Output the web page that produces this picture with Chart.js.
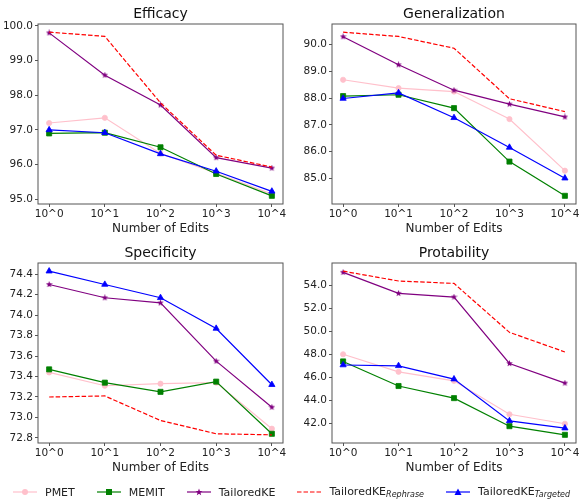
<!DOCTYPE html>
<html>
<head>
<meta charset="utf-8">
<script src="https://cdn.jsdelivr.net/npm/chart.js@4.4.1/dist/chart.umd.min.js"></script>
<style>
  body { margin: 0; background: #fff; width: 583px; height: 503px; position: relative; overflow: hidden; font-family: "DejaVu Sans", sans-serif; }
  canvas.panel { position: absolute; }
  #legend { position: absolute; left: 13px; top: 484px; height: 16px; display: flex; gap: 22px; align-items: center; font-size: 11px; color: #222; }
  .item { display: flex; align-items: center; gap: 8px; white-space: nowrap; }
  .item sub { font-style: italic; font-size: 8px; vertical-align: -2px; }
</style>
</head>
<body>
<canvas id="eff" class="panel" width="290" height="240" style="left:0;top:0"></canvas>
<canvas id="gen" class="panel" width="289" height="240" style="left:294px;top:0"></canvas>
<canvas id="spe" class="panel" width="290" height="240" style="left:0;top:239px"></canvas>
<canvas id="pro" class="panel" width="289" height="240" style="left:294px;top:239px"></canvas>

<div id="legend">
  <div class="item"><svg width="24" height="8"><line x1="0" y1="4" x2="24" y2="4" stroke="pink" stroke-width="1.2"/><circle cx="12" cy="4" r="3" fill="pink"/></svg><span>PMET</span></div>
  <div class="item"><svg width="24" height="8"><line x1="0" y1="4" x2="24" y2="4" stroke="green" stroke-width="1.2"/><rect x="9" y="1" width="6" height="6" fill="green"/></svg><span>MEMIT</span></div>
  <div class="item"><svg width="24" height="8"><line x1="0" y1="4" x2="24" y2="4" stroke="purple" stroke-width="1.2"/><polygon points="12,0.5 12.9,3 15.5,3 13.4,4.6 14.2,7.3 12,5.7 9.8,7.3 10.6,4.6 8.5,3 11.1,3" fill="purple"/></svg><span>TailoredKE</span></div>
  <div class="item"><svg width="24" height="8"><line x1="0" y1="4" x2="24" y2="4" stroke="red" stroke-width="1.2" stroke-dasharray="4.5 2"/></svg><span>TailoredKE<sub>Rephrase</sub></span></div>
  <div class="item"><svg width="24" height="8"><line x1="0" y1="4" x2="24" y2="4" stroke="blue" stroke-width="1.2"/><polygon points="12,0.5 15.5,7 8.5,7" fill="blue"/></svg><span>TailoredKE<sub>Targeted</sub></span></div>
</div>

<script>
// x categories
const xLabels = ['10^0', '10^1', '10^2', '10^3', '10^4'];

// Efficacy
const effPMET     = [97.2, 97.35, 96.32, 95.75, 95.15];
const effMEMIT    = [96.9, 96.92, 96.5, 95.73, 95.1];
const effTailored = [99.8, 98.58, 97.72, 96.2, 95.9];
const effRephrase = [99.82, 99.7, 97.78, 96.27, 95.93];
const effTargeted = [97.0, 96.92, 96.31, 95.81, 95.23];
const effTicks    = [95, 96, 97, 98, 99, 100];

// Generalization
const genPMET     = [88.69, 88.38, 88.25, 87.22, 85.29];
const genMEMIT    = [88.08, 88.13, 87.63, 85.63, 84.35];
const genTailored = [90.3, 89.25, 88.3, 87.78, 87.3];
const genRephrase = [90.47, 90.31, 89.87, 87.98, 87.5];
const genTargeted = [87.99, 88.2, 87.27, 86.16, 85.01];
const genTicks    = [85, 86, 87, 88, 89, 90];

// Specificity
const spePMET     = [73.44, 73.31, 73.33, 73.34, 72.89];
const speMEMIT    = [73.47, 73.34, 73.25, 73.35, 72.84];
const speTailored = [74.3, 74.17, 74.12, 73.55, 73.1];
const speRephrase = [73.2, 73.21, 72.97, 72.84, 72.83];
const speTargeted = [74.43, 74.3, 74.17, 73.87, 73.32];
const speTicks    = [72.8, 73.0, 73.2, 73.4, 73.6, 73.8, 74.0, 74.2, 74.4];

// Protability
const proPMET     = [48.0, 46.48, 45.7, 42.8, 41.98];
const proMEMIT    = [47.38, 45.25, 44.2, 41.77, 41.02];
const proTailored = [55.1, 53.28, 52.96, 47.2, 45.5];
const proRephrase = [55.2, 54.35, 54.14, 49.9, 48.2];
const proTargeted = [47.07, 47.0, 45.85, 42.23, 41.6];
const proTicks    = [42, 44, 46, 48, 50, 52, 54];

Chart.defaults.font.family = "'DejaVu Sans', sans-serif";

function starImage(color, size) {
  let c = document.createElement('canvas');
  c.width = size; c.height = size;
  let g = c.getContext('2d');
  g.fillStyle = color;
  g.beginPath();
  for (let i = 0; i < 10; i++) {
    let r = i % 2 ? size * 0.2 : size * 0.5;
    let a = -Math.PI / 2 + i * Math.PI / 5;
    g.lineTo(size / 2 + r * Math.cos(a), size / 2 + r * Math.sin(a));
  }
  g.closePath();
  g.fill();
  return c;
}
const purpleStar = starImage('purple', 7);

// box around the plot area, like matplotlib spines
const frame = {
  id: 'frame',
  afterDraw(chart) {
    let a = chart.chartArea, ctx = chart.ctx;
    ctx.save();
    ctx.strokeStyle = '#555';
    ctx.lineWidth = 1;
    ctx.strokeRect(a.left, a.top, a.right - a.left, a.bottom - a.top);
    ctx.restore();
  }
};

function pts(vals) {
  return vals.map((y, i) => ({x: i, y: y}));
}

function DisplayPanel(domID, title, s, yTicks) {
  let all = [].concat(s[0], s[1], s[2], s[3], s[4]);
  let lo = Math.min(...all), hi = Math.max(...all);
  let pad = (hi - lo) * 0.05;

  let data = {
    datasets: [
      {label: 'PMET', data: pts(s[0]), borderColor: 'pink', backgroundColor: 'pink',
       pointStyle: 'circle', pointRadius: 2.6, order: 5},
      {label: 'MEMIT', data: pts(s[1]), borderColor: 'green', backgroundColor: 'green',
       pointStyle: 'rect', pointRadius: 3.6, order: 4},
      {label: 'TailoredKE', data: pts(s[2]), borderColor: 'purple', backgroundColor: 'purple',
       pointStyle: purpleStar, pointRadius: 3, order: 3},
      {label: 'TailoredKE_Rephrase', data: pts(s[3]), borderColor: 'red', backgroundColor: 'red',
       borderDash: [4.5, 2], pointRadius: 0, order: 2},
      {label: 'TailoredKE_Targeted', data: pts(s[4]), borderColor: 'blue', backgroundColor: 'blue',
       pointStyle: 'triangle', pointRadius: 3.6, order: 1}
    ]
  };
  data.datasets.forEach(d => {
    d.borderWidth = 1.2;
    d.pointBorderWidth = 0.8;
    d.pointHoverRadius = d.pointRadius;
    d.tension = 0;
  });

  let config = {
    type: 'line',
    data,
    options: {
      responsive: false,
      animation: false,
      layout: {padding: {left: 0, right: 7, top: 0, bottom: 0}},
      plugins: {
        legend: {display: false},
        tooltip: {enabled: false},
        title: {display: true, fullSize: false, text: title, color: '#111',
                font: {size: 14, weight: 'normal'}, padding: {top: 5.6, bottom: 1.6}}
      },
      scales: {
        x: {
          type: 'linear', min: -0.2, max: 4.2,
          afterBuildTicks: sc => { sc.ticks = xLabels.map((_, i) => ({value: i})); },
          afterFit: sc => { sc.height = 36; },
          ticks: {callback: v => xLabels[v], color: '#222', font: {size: 10.5}, padding: 1,
                  maxRotation: 0, autoSkip: false},
          grid: {drawOnChartArea: false, drawTicks: true, tickLength: 3, color: '#555'},
          border: {display: false},
          title: {display: true, text: 'Number of Edits', color: '#222', font: {size: 12},
                  padding: {top: 0, bottom: 4}}
        },
        y: {
          type: 'linear', min: lo - pad, max: hi + pad,
          afterBuildTicks: sc => { sc.ticks = yTicks.map(v => ({value: v})); },
          afterFit: sc => { sc.width = 38; },
          ticks: {callback: v => v.toFixed(1), color: '#222', font: {size: 10.5}, padding: 2},
          grid: {drawOnChartArea: false, drawTicks: true, tickLength: 3, color: '#555'},
          border: {display: false}
        }
      }
    },
    plugins: [frame]
  };

  new Chart(document.getElementById(domID), config);
}

DisplayPanel('eff', 'Efficacy', [effPMET, effMEMIT, effTailored, effRephrase, effTargeted], effTicks);
DisplayPanel('gen', 'Generalization', [genPMET, genMEMIT, genTailored, genRephrase, genTargeted], genTicks);
DisplayPanel('spe', 'Specificity', [spePMET, speMEMIT, speTailored, speRephrase, speTargeted], speTicks);
DisplayPanel('pro', 'Protability', [proPMET, proMEMIT, proTailored, proRephrase, proTargeted], proTicks);
</script>
</body>
</html>
